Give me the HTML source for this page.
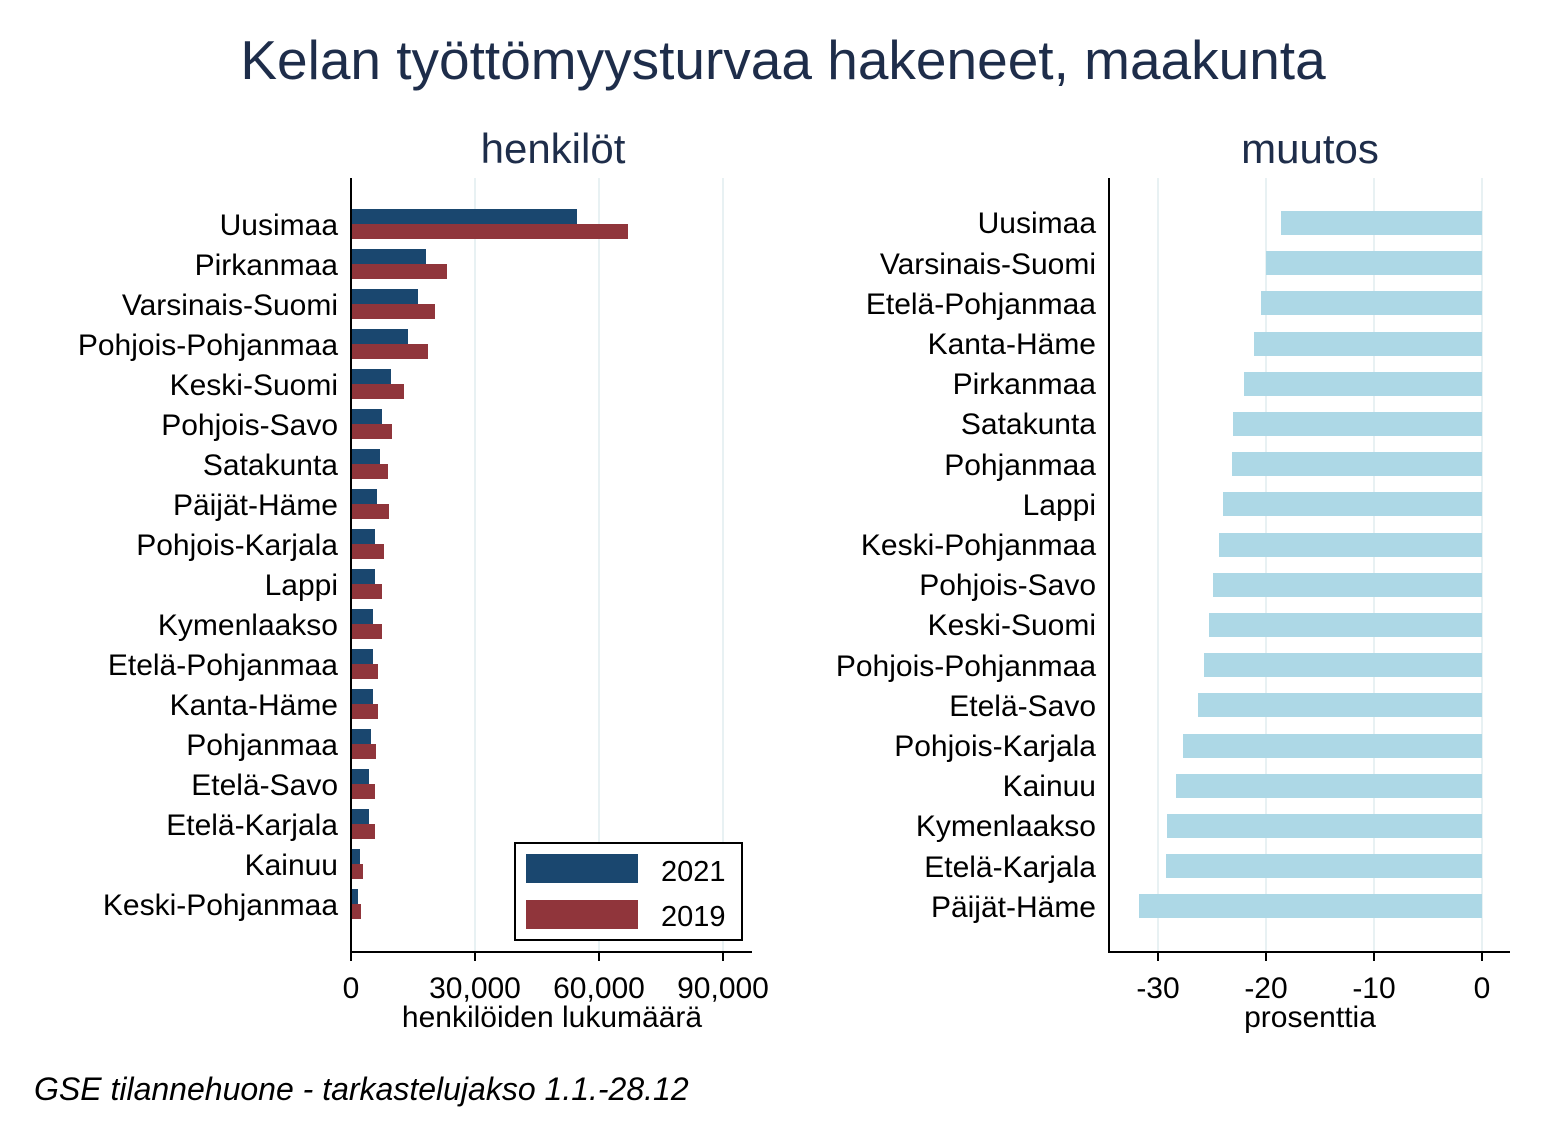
<!DOCTYPE html>
<html><head><meta charset="utf-8"><style>body{margin:0;background:#fff}text{font-family:"Liberation Sans",sans-serif;fill:#000}</style></head>
<body>
<svg width="1567" height="1139" xmlns="http://www.w3.org/2000/svg">
<rect width="1567" height="1139" fill="#fff"/>
<text x="783" y="79" font-size="55" text-anchor="middle" style="fill:#1e2d4a">Kelan työttömyysturvaa hakeneet, maakunta</text>
<text x="553" y="163" font-size="42" text-anchor="middle" style="fill:#1e2d4a">henkilöt</text>
<text x="1310" y="163" font-size="42" text-anchor="middle" style="fill:#1e2d4a">muutos</text>
<g stroke="#e8f1f3" stroke-width="2">
<line x1="475" y1="178" x2="475" y2="952"/><line x1="599" y1="178" x2="599" y2="952"/><line x1="723" y1="178" x2="723" y2="952"/>
<line x1="1158" y1="178" x2="1158" y2="952"/><line x1="1266" y1="178" x2="1266" y2="952"/><line x1="1374" y1="178" x2="1374" y2="952"/><line x1="1482" y1="178" x2="1482" y2="952"/>
</g>
<g fill="#1a476f">
<rect x="351" y="209" width="226" height="15"/><rect x="351" y="249" width="75" height="15"/><rect x="351" y="289" width="67" height="15"/><rect x="351" y="329" width="57" height="15"/><rect x="351" y="369" width="40" height="15"/><rect x="351" y="409" width="31" height="15"/><rect x="351" y="449" width="29" height="15"/><rect x="351" y="489" width="26" height="15"/><rect x="351" y="529" width="24" height="15"/><rect x="351" y="569" width="24" height="15"/><rect x="351" y="609" width="22" height="15"/><rect x="351" y="649" width="22" height="15"/><rect x="351" y="689" width="22" height="15"/><rect x="351" y="729" width="20" height="15"/><rect x="351" y="769" width="18" height="15"/><rect x="351" y="809" width="18" height="15"/><rect x="351" y="849" width="9" height="15"/><rect x="351" y="889" width="7" height="15"/>
</g>
<g fill="#90353b">
<rect x="351" y="224" width="277" height="15"/><rect x="351" y="264" width="96" height="15"/><rect x="351" y="304" width="84" height="15"/><rect x="351" y="344" width="77" height="15"/><rect x="351" y="384" width="53" height="15"/><rect x="351" y="424" width="41" height="15"/><rect x="351" y="464" width="37" height="15"/><rect x="351" y="504" width="38" height="15"/><rect x="351" y="544" width="33" height="15"/><rect x="351" y="584" width="31" height="15"/><rect x="351" y="624" width="31" height="15"/><rect x="351" y="664" width="27" height="15"/><rect x="351" y="704" width="27" height="15"/><rect x="351" y="744" width="25" height="15"/><rect x="351" y="784" width="24" height="15"/><rect x="351" y="824" width="24" height="15"/><rect x="351" y="864" width="12" height="15"/><rect x="351" y="904" width="10" height="15"/>
</g>
<g fill="#add8e6">
<rect x="1281" y="211" width="201" height="24"/><rect x="1266" y="251" width="216" height="24"/><rect x="1261" y="291" width="221" height="24"/><rect x="1254" y="332" width="228" height="24"/><rect x="1244" y="372" width="238" height="24"/><rect x="1233" y="412" width="249" height="24"/><rect x="1232" y="452" width="250" height="24"/><rect x="1223" y="492" width="259" height="24"/><rect x="1219" y="533" width="263" height="24"/><rect x="1213" y="573" width="269" height="24"/><rect x="1209" y="613" width="273" height="24"/><rect x="1204" y="653" width="278" height="24"/><rect x="1198" y="693" width="284" height="24"/><rect x="1183" y="734" width="299" height="24"/><rect x="1176" y="774" width="306" height="24"/><rect x="1167" y="814" width="315" height="24"/><rect x="1166" y="854" width="316" height="24"/><rect x="1139" y="894" width="343" height="24"/>
</g>
<g stroke="#000" stroke-width="2" fill="none">
<polyline points="351,178 351,952 752,952"/>
<line x1="351" y1="952" x2="351" y2="961"/><line x1="475" y1="952" x2="475" y2="961"/><line x1="599" y1="952" x2="599" y2="961"/><line x1="723" y1="952" x2="723" y2="961"/>
<polyline points="1109,178 1109,952 1510,952"/>
<line x1="1158" y1="952" x2="1158" y2="961"/><line x1="1266" y1="952" x2="1266" y2="961"/><line x1="1374" y1="952" x2="1374" y2="961"/><line x1="1482" y1="952" x2="1482" y2="961"/>
</g>
<g font-size="30" text-anchor="end">
<text x="338" y="235">Uusimaa</text><text x="338" y="275">Pirkanmaa</text><text x="338" y="315">Varsinais-Suomi</text><text x="338" y="355">Pohjois-Pohjanmaa</text><text x="338" y="395">Keski-Suomi</text><text x="338" y="435">Pohjois-Savo</text><text x="338" y="475">Satakunta</text><text x="338" y="515">Päijät-Häme</text><text x="338" y="555">Pohjois-Karjala</text><text x="338" y="595">Lappi</text><text x="338" y="635">Kymenlaakso</text><text x="338" y="675">Etelä-Pohjanmaa</text><text x="338" y="715">Kanta-Häme</text><text x="338" y="755">Pohjanmaa</text><text x="338" y="795">Etelä-Savo</text><text x="338" y="835">Etelä-Karjala</text><text x="338" y="875">Kainuu</text><text x="338" y="915">Keski-Pohjanmaa</text>
</g>
<g font-size="30" text-anchor="end">
<text x="1096" y="233">Uusimaa</text><text x="1096" y="274">Varsinais-Suomi</text><text x="1096" y="314">Etelä-Pohjanmaa</text><text x="1096" y="354">Kanta-Häme</text><text x="1096" y="394">Pirkanmaa</text><text x="1096" y="434">Satakunta</text><text x="1096" y="475">Pohjanmaa</text><text x="1096" y="515">Lappi</text><text x="1096" y="555">Keski-Pohjanmaa</text><text x="1096" y="595">Pohjois-Savo</text><text x="1096" y="635">Keski-Suomi</text><text x="1096" y="676">Pohjois-Pohjanmaa</text><text x="1096" y="716">Etelä-Savo</text><text x="1096" y="756">Pohjois-Karjala</text><text x="1096" y="796">Kainuu</text><text x="1096" y="836">Kymenlaakso</text><text x="1096" y="877">Etelä-Karjala</text><text x="1096" y="917">Päijät-Häme</text>
</g>
<g font-size="30" text-anchor="middle">
<text x="351" y="998">0</text><text x="475" y="998">30,000</text><text x="599" y="998">60,000</text><text x="723" y="998">90,000</text>
<text x="552" y="1027">henkilöiden lukumäärä</text>
<text x="1158" y="998">-30</text><text x="1266" y="998">-20</text><text x="1374" y="998">-10</text><text x="1482" y="998">0</text>
<text x="1310" y="1027">prosenttia</text>
</g>
<rect x="515" y="843" width="227" height="97" fill="#fff" stroke="#000" stroke-width="2"/>
<rect x="526" y="854" width="112" height="29" fill="#1a476f"/>
<rect x="526" y="900" width="112" height="29" fill="#90353b"/>
<text x="661" y="881" font-size="29">2021</text>
<text x="661" y="926" font-size="29">2019</text>
<text x="34" y="1100" font-size="32" font-style="italic">GSE tilannehuone - tarkastelujakso 1.1.-28.12</text>
</svg>
</body></html>
